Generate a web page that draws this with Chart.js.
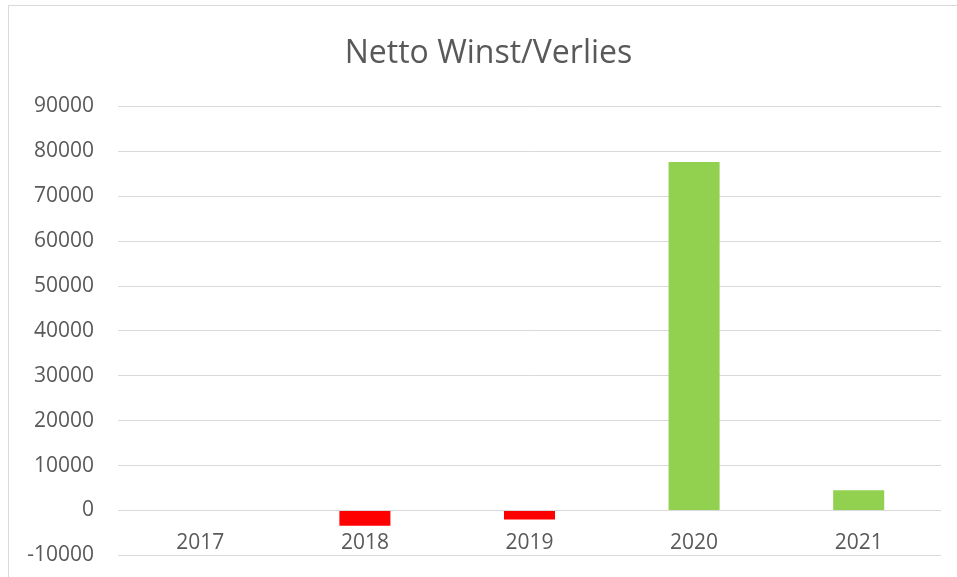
<!DOCTYPE html>
<html>
<head>
<meta charset="utf-8">
<script src="https://cdn.jsdelivr.net/npm/chart.js@4/dist/chart.umd.min.js"></script>
<style>
  html, body { margin: 0; padding: 0; background: #ffffff; overflow: hidden; }
  #wrap { position: relative; width: 957px; height: 577px; overflow: hidden; }
  #frame { position: absolute; left: 8px; top: 5px; width: 1200px; height: 1200px; border: 1px solid #D9D9D9; box-sizing: border-box; pointer-events: none; }
  canvas { position: absolute; left: 0; top: 0; }
</style>
</head>
<body>
<div id="wrap">
  <canvas id="c" width="957" height="592"></canvas>
  <div id="frame"></div>
</div>
<script>
const chartTitle = "Netto Winst/Verlies";
const categories = ["2017", "2018", "2019", "2020", "2021"];
const netResult = [0, -3400, -2000, 77600, 4500];
const yMin = -10000;
const yMax = 90000;
const yStep = 10000;

const positiveColor = "#92D050";
const negativeColor = "#FF0000";
const textColor = "#595959";
const gridColor = "#D9D9D9";
const fontFamily = "'Open Sans', 'Liberation Sans', sans-serif";

// Shift the title box so it is centred like the original chart object (which extends past the right edge)
const titleShift = {
  id: "titleShift",
  afterLayout(chart) {
    const t = chart.titleBlock;
    if (t) { t.left += 8; t.right += 8; }
  }
};

new Chart(document.getElementById("c"), {
  type: "bar",
  data: {
    labels: categories,
    datasets: [{
      label: chartTitle,
      data: netResult,
      backgroundColor: netResult.map(v => v < 0 ? negativeColor : positiveColor),
      borderWidth: 0,
      barPercentage: 0.31,
      categoryPercentage: 1.0
    }]
  },
  plugins: [titleShift],
  options: {
    responsive: false,
    animation: false,
    layout: { padding: { left: 20, right: 16, top: 0, bottom: 0 } },
    plugins: {
      legend: { display: false },
      tooltip: { enabled: false },
      title: {
        display: true,
        text: chartTitle,
        color: textColor,
        font: { family: fontFamily, size: 32, weight: "normal" },
        padding: { top: 35, bottom: 33 }
      }
    },
    scales: {
      x: {
        position: { y: 0 },
        grid: { display: false, drawTicks: false },
        border: { display: false },
        ticks: {
          color: textColor,
          font: { family: fontFamily, size: 21 },
          padding: 20,
          maxRotation: 0
        }
      },
      y: {
        min: yMin,
        max: yMax,
        grid: { color: gridColor, lineWidth: 1, drawTicks: false },
        border: { display: false },
        ticks: {
          stepSize: yStep,
          color: textColor,
          font: { family: fontFamily, size: 21 },
          padding: 24,
          callback: function (value) { return String(value); }
        },
        afterFit: function (scale) { scale.width = 98; }
      }
    }
  }
});
</script>
</body>
</html>
